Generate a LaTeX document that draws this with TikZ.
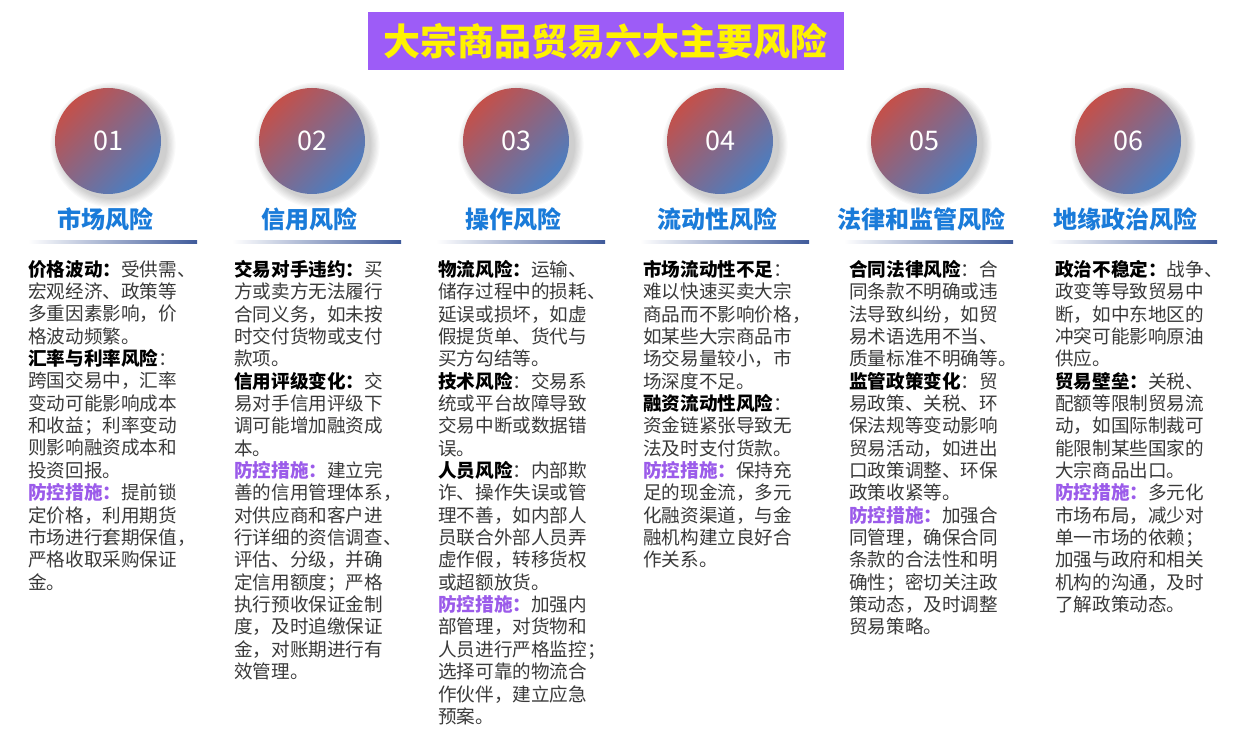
\documentclass[tikz,border=0pt]{standalone}
\usepackage{fontspec}
\setmainfont{Noto Sans CJK SC}
\usepackage{tikz}
\definecolor{circred}{HTML}{C4504A}
\definecolor{circblue}{HTML}{4A7EC2}
\definecolor{headblue}{HTML}{1A7BD9}
\definecolor{linenavy}{HTML}{3F5A9A}
\definecolor{titlepurple}{HTML}{9D5CF7}
\definecolor{titleyellow}{HTML}{FFF200}
\definecolor{measure}{HTML}{9B5BEA}
\definecolor{bodygray}{HTML}{3A3A3A}
\newcommand{\hd}[1]{\textbf{\color{black}#1}}
\newcommand{\fk}{\textbf{\color{measure}防控措施：}}

\begin{document}
\begin{tikzpicture}[x=1pt,y=-1pt,
  num/.style = {circle, minimum size=106pt, inner sep=0, top color=circred, bottom color=circblue, shading angle=45, text=white, font=\fontsize{27}{27}\selectfont},
  heading/.style = {text=headblue, font=\fontsize{24}{24}\selectfont\bfseries},
  body/.style = {anchor=north west, inner sep=0, align=left, text=bodygray, font=\fontsize{18.6}{22.35}\selectfont}]
\useasboundingbox (0,0) rectangle (1236,743);
\fill[white] (0,0) rectangle (1236,743);
% title
\node[fill=titlepurple, minimum width=476pt, minimum height=58pt, text=titleyellow, font=\fontsize{37}{37}\selectfont\bfseries] (title) at (605.5,41) {大宗商品贸易六大主要风险};
% circles, headings, lines
\foreach \i/\x/\name in {1/108/市场风险, 2/312/信用风险, 3/516/操作风险, 4/720/流动性风险, 5/924/法律和监管风险, 6/1128/地缘政治风险} {
  \foreach \k in {1,...,8}
    \fill[black, opacity=0.025] (\x+5,145) circle (53+\k*1.2);
  \node[num] (c\i) at (\x,141) {0\i};
  \node[heading] (h\i) at (\x-3,219) {\name};
  \shade[left color=white, right color=linenavy] (\x-80,241) rectangle (\x+89,243.5);
}
% texts
\node[body] (t1) at (28,260) {\hd{价格波动：}受供需、\\宏观经济、政策等\\多重因素影响，价\\格波动频繁。\\\hd{汇率与利率风险}：\\跨国交易中，汇率\\变动可能影响成本\\和收益；利率变动\\则影响融资成本和\\投资回报。\\\fk 提前锁\\定价格，利用期货\\市场进行套期保值，\\严格收取采购保证\\金。};
\node[body] (t2) at (234,260) {\hd{交易对手违约：}买\\方或卖方无法履行\\合同义务，如未按\\时交付货物或支付\\款项。\\\hd{信用评级变化：}交\\易对手信用评级下\\调可能增加融资成\\本。\\\fk 建立完\\善的信用管理体系，\\对供应商和客户进\\行详细的资信调查、\\评估、分级，并确\\定信用额度；严格\\执行预收保证金制\\度，及时追缴保证\\金，对账期进行有\\效管理。};
\node[body] (t3) at (438,260) {\hd{物流风险：}运输、\\储存过程中的损耗、\\延误或损坏，如虚\\假提货单、货代与\\买方勾结等。\\\hd{技术风险}：交易系\\统或平台故障导致\\交易中断或数据错\\误。\\\hd{人员风险}：内部欺\\诈、操作失误或管\\理不善，如内部人\\员联合外部人员弄\\虚作假，转移货权\\或超额放货。\\\fk 加强内\\部管理，对货物和\\人员进行严格监控；\\选择可靠的物流合\\作伙伴，建立应急\\预案。};
\node[body] (t4) at (643,260) {\hd{市场流动性不足}：\\难以快速买卖大宗\\商品而不影响价格，\\如某些大宗商品市\\场交易量较小，市\\场深度不足。\\\hd{融资流动性风险}：\\资金链紧张导致无\\法及时支付货款。\\\fk 保持充\\足的现金流，多元\\化融资渠道，与金\\融机构建立良好合\\作关系。};
\node[body] (t5) at (849,260) {\hd{合同法律风险}：合\\同条款不明确或违\\法导致纠纷，如贸\\易术语选用不当、\\质量标准不明确等。\\\hd{监管政策变化}：贸\\易政策、关税、环\\保法规等变动影响\\贸易活动，如进出\\口政策调整、环保\\政策收紧等。\\\fk 加强合\\同管理，确保合同\\条款的合法性和明\\确性；密切关注政\\策动态，及时调整\\贸易策略。};
\node[body] (t6) at (1055,260) {\hd{政治不稳定：}战争、\\政变等导致贸易中\\断，如中东地区的\\冲突可能影响原油\\供应。\\\hd{贸易壁垒：}关税、\\配额等限制贸易流\\动，如国际制裁可\\能限制某些国家的\\大宗商品出口。\\\fk 多元化\\市场布局，减少对\\单一市场的依赖；\\加强与政府和相关\\机构的沟通，及时\\了解政策动态。};
\end{tikzpicture}
\end{document}
